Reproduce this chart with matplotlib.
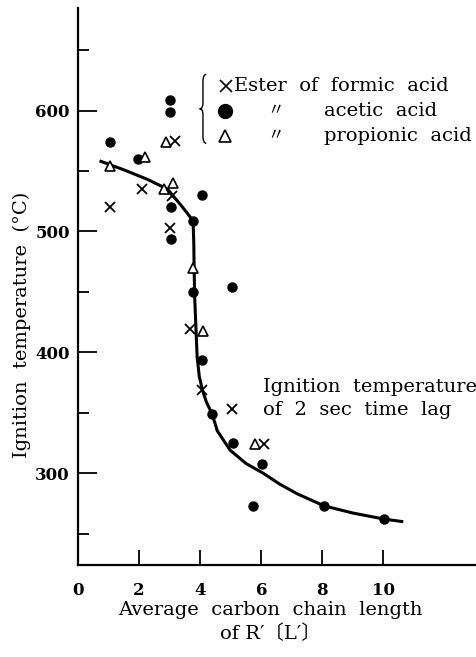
import matplotlib
matplotlib.use("Agg")
import matplotlib.pyplot as plt
from matplotlib.path import Path
from matplotlib.patches import PathPatch

plt.rcParams['font.family'] = ['DejaVu Serif', 'Noto Sans CJK JP']

# ester of formic acid (x markers)
formic_x = [1.05, 2.08, 3.19, 3.06, 3.0, 3.68, 4.07, 5.05, 6.1]
formic_y = [520, 535, 575, 529, 503, 419, 369, 353, 324]

# ester of acetic acid (filled dots)
acetic_x = [1.04, 1.95, 3.0, 3.0, 3.03, 3.03, 4.07, 3.78, 3.78, 5.05,
            4.07, 4.4, 5.08, 6.03, 5.73, 8.05, 10.03]
acetic_y = [574, 560, 609, 599, 520, 494, 530, 509, 450, 454,
            394, 349, 325, 308, 273, 273, 262]

# ester of propionic acid (open triangles)
propionic_x = [1.04, 2.2, 2.87, 2.8, 3.1, 3.78, 4.1, 5.8]
propionic_y = [554, 562, 574, 535, 540, 470, 418, 324]

# hand drawn curve (2 sec time lag)
curve_x = [0.75, 1.5, 2.28, 2.93, 3.36, 3.55, 3.7, 3.77, 3.79, 3.8, 3.82,
           3.86, 3.9, 3.97, 4.07, 4.2, 4.39, 4.56, 4.98, 5.5, 6.06, 6.6,
           7.17, 8.05, 9.0, 10.03, 10.6]
curve_y = [558, 551, 543, 535, 522, 516, 511, 506, 490, 470, 445,
           420, 396, 380, 369, 359, 349, 335, 319, 308, 300, 291,
           283, 273, 267, 262, 260]

xticks = [0, 2, 4, 6, 8, 10]
yticks = [300, 400, 500, 600]
yminor = [250, 350, 450, 550, 650]

fig = plt.figure(figsize=(4.76, 6.57), dpi=100)
ax = fig.add_axes([0.164, 0.14, 0.834, 0.848])

ax.plot(curve_x, curve_y, color="black", lw=2.2, zorder=2)
ax.plot(formic_x, formic_y, "x", color="black", ms=7, mew=1.3, zorder=3)
ax.plot(acetic_x, acetic_y, "o", color="black", ms=6.5, zorder=3)
ax.plot(propionic_x, propionic_y, "^", mfc="white", mec="black", ms=7.5,
        mew=1.2, zorder=4)

ax.set_xlim(0, 13)
ax.set_ylim(224, 685)

for s in ["top", "right"]:
    ax.spines[s].set_visible(False)
for s in ["left", "bottom"]:
    ax.spines[s].set_linewidth(1.6)

ax.set_xticks(xticks)
ax.set_yticks(yticks)
ax.set_yticks(yminor, minor=True)
ax.tick_params(axis="x", direction="in", length=11, width=1.3, pad=12,
               labelsize=12)
ax.tick_params(axis="y", which="major", direction="in", length=14, width=1.3,
               pad=6, labelsize=12)
ax.tick_params(axis="y", which="minor", direction="in", length=8, width=1.3)
for lab in ax.get_xticklabels() + ax.get_yticklabels():
    lab.set_fontweight("bold")

fig.text(0.046, 0.505, "Ignition  temperature  (°C)", rotation=90,
         ha="center", va="center", fontsize=14)
fig.text(0.567, 0.071, "Average  carbon  chain  length", ha="center",
         va="center", fontsize=14)
fig.text(0.567, 0.036, "of R′〔L′〕", ha="center", va="center", fontsize=14)

# legend drawn by hand
ax.plot([4.86], [620.6], "x", color="black", ms=8, mew=1.2, clip_on=False)
ax.plot([4.8], [600], "o", color="black", ms=10, clip_on=False)
ax.plot([4.8], [579.4], "^", mfc="white", mec="black", ms=9, mew=1.2,
        clip_on=False)
ax.text(5.1, 620.6, "Ester  of  formic  acid", va="center", fontsize=14)
ax.text(6.45, 600, "〃", va="center", ha="center", fontsize=12)
ax.text(6.45, 579.4, "〃", va="center", ha="center", fontsize=12)
ax.text(8.05, 600, "acetic  acid", va="center", fontsize=14)
ax.text(8.05, 579.4, "propionic  acid", va="center", fontsize=14)

bx, bw, btop, bbot = 3.98, 0.22, 630, 573
bmid = (btop + bbot) / 2
verts = [(bx + bw, btop), (bx + bw / 2, btop), (bx + bw / 2, btop - 6),
         (bx + bw / 2, bmid + 5),
         (bx + bw / 2, bmid), (bx, bmid),
         (bx + bw / 2, bmid), (bx + bw / 2, bmid - 5),
         (bx + bw / 2, bbot + 6),
         (bx + bw / 2, bbot), (bx + bw, bbot)]
codes = [Path.MOVETO, Path.CURVE3, Path.CURVE3, Path.LINETO,
         Path.CURVE3, Path.CURVE3, Path.CURVE3, Path.CURVE3,
         Path.LINETO, Path.CURVE3, Path.CURVE3]
ax.add_patch(PathPatch(Path(verts, codes), fill=False, lw=1.0,
                       edgecolor="black", clip_on=False))

ax.text(6.07, 371, "Ignition  temperature", va="center", fontsize=14)
ax.text(6.07, 352, "of  2  sec  time  lag", va="center", fontsize=14)

fig.savefig("out.png", dpi=100)
